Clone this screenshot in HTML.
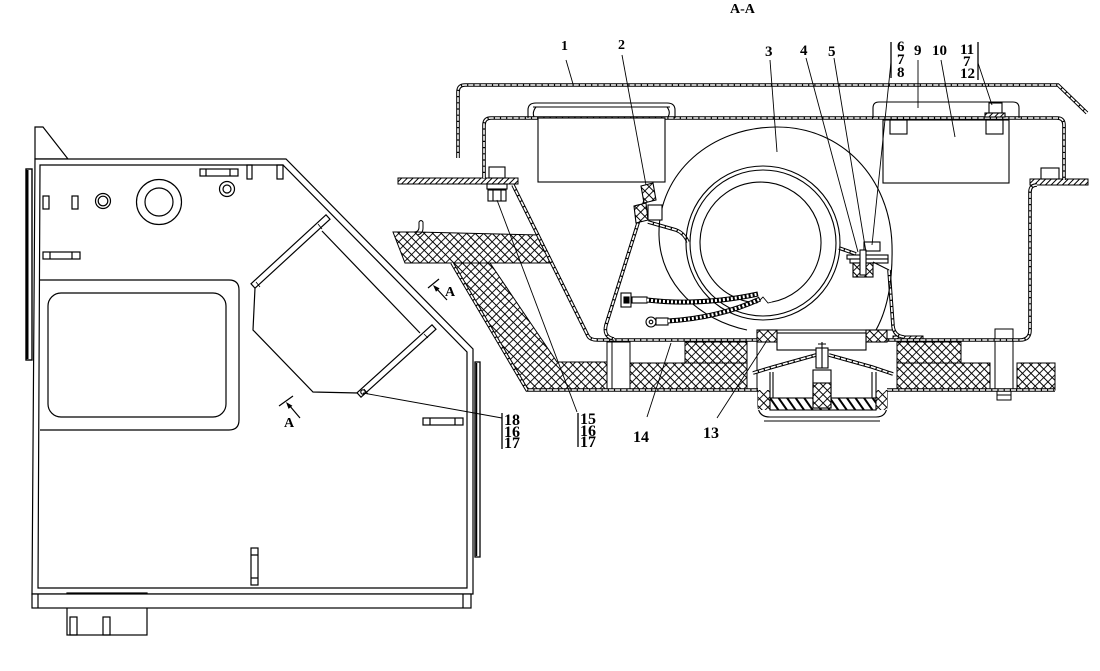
<!DOCTYPE html>
<html><head><meta charset="utf-8"><style>
html,body{margin:0;padding:0;background:#fff}
svg{display:block}
.t{font-family:"Liberation Serif",serif;font-weight:bold;fill:#000}
.o{stroke:#000;stroke-width:3.6;fill:none}
.i{stroke:#fff;stroke-width:1.6;fill:none;stroke-dasharray:5 1.2}
</style></head><body>
<svg width="1100" height="671" viewBox="0 0 1100 671" xmlns="http://www.w3.org/2000/svg">
<defs>
<pattern id="mesh" width="6" height="6" patternUnits="userSpaceOnUse" patternTransform="rotate(45)"><rect width="6" height="6" fill="#fff"/><path d="M0,3 H6 M3,0 V6" stroke="#000" stroke-width="0.9"/></pattern>
<pattern id="hatch" width="4" height="4" patternUnits="userSpaceOnUse" patternTransform="rotate(45)"><rect width="4" height="4" fill="#fff"/><path d="M2,0 V4" stroke="#000" stroke-width="1"/></pattern>
<pattern id="hatch2" width="7" height="7" patternUnits="userSpaceOnUse" patternTransform="rotate(-35)"><rect width="7" height="7" fill="#fff"/><path d="M3.5,0 V7" stroke="#000" stroke-width="2"/></pattern>
<path id="cover" d="M458,158 V92 Q458,85 465,85 H1058 L1087,113"/>
<path id="house" d="M484,178 V125 Q484,118 491,118 H1057 Q1064,118 1064,125 V180"/>
<path id="diag" d="M513,185 L588,336 Q590,340 598,340 H1020 Q1030,340 1030,330 V192 Q1030,185 1037,185"/>
<path id="lwall" d="M649,188 L606,325 Q603,337 614,339"/>
<path id="rwall" d="M889,270 L893,326 Q894,336 904,337"/>
<path id="band" d="M452,263 L527,390 H758 M887,390 H1055"/>
<path id="strapL" d="M648,222 L676,230 Q684,233 688,242"/>
<path id="strapR" d="M839,248 L856,254"/>
<path id="umbL" d="M753,373 L773,367 L816,355"/>
<path id="umbR" d="M829,355 L872,367 L893,374"/>
</defs>
<rect width="1100" height="671" fill="#fff"/>

<!-- ===== LEFT VIEW ===== -->
<g stroke="#000" fill="none" stroke-width="1.2">
 <polygon points="35,159 35,127 43,127 68,159" fill="#fff"/>
 <path d="M35,159 H286 L473,349 V594 H32 Z" fill="#fff"/>
 <path d="M40,165 H283 L467,352 V588 H38 Z"/>
 <rect x="67" y="593" width="80" height="42" fill="#fff"/>
 <rect x="32" y="594" width="439" height="14" fill="#fff"/>
 <path d="M38,594 V608 M463,594 V608"/>
 <rect x="70" y="617" width="7" height="18"/>
 <rect x="103" y="617" width="7" height="18"/>
 <rect x="26" y="169" width="6" height="191" fill="#fff" stroke-width="1.4"/>
 <path d="M27.5,170 V359" stroke-width="2"/>
 <rect x="475" y="362" width="5" height="195" stroke-width="1.3"/>
 <path d="M476.5,363 V556" stroke-width="1.5"/>
 <!-- top features -->
 <rect x="200" y="169" width="38" height="7"/>
 <path d="M206,169 V176 M230,169 V176"/>
 <rect x="247" y="165" width="5" height="14"/>
 <rect x="277" y="165" width="6" height="14"/>
 <circle cx="227" cy="189" r="7.5"/><circle cx="227" cy="189" r="4"/>
 <circle cx="159" cy="202" r="22.5"/><circle cx="159" cy="202" r="14"/>
 <circle cx="103" cy="201" r="7.5"/><circle cx="103" cy="201" r="4.8"/>
 <rect x="43" y="196" width="6" height="13"/>
 <rect x="72" y="196" width="6" height="13"/>
 <rect x="43" y="252" width="37" height="7"/>
 <path d="M50,252 V259 M72,252 V259"/>
 <!-- window -->
 <path d="M40,280 H229 Q239,280 239,290 V420 Q239,430 229,430 H40"/>
 <rect x="48" y="293" width="178" height="124" rx="13"/>
 <rect x="423" y="418" width="40" height="7"/>
 <path d="M430,418 V425 M455,418 V425"/>
 <rect x="251" y="548" width="7" height="37"/>
 <path d="M251,555 H258 M251,578 H258"/>
 <!-- hexagon opening -->
 <path d="M255,288 L253,330 L313,392 L358,393"/>
 <path d="M420,333 L322,231"/>
 <polygon points="251,283.8 326,214.8 330,219.2 255,288.2" fill="#fff"/>
 <polygon points="357,392.8 432,324.8 436,329.2 361,397.2" fill="#fff"/>
 <path d="M256,282 L260,287 M318,224 L322,229 M424,334 L428,338 M364,389 L368,394" stroke-width="0.8"/>
 <circle cx="363" cy="392" r="2.2"/>
 <path d="M363,393 L502,418" stroke-width="0.9"/>
 <!-- section arrows -->
 <path d="M279,406 L293,396 M300,418 L289,405" stroke-width="1.2"/>
 <path d="M428,288 L439,279 M447,300 L436,288" stroke-width="1.2"/>
</g>
<polygon points="286,402 292.4,405.7 288.6,408.9" fill="#000"/>
<polygon points="433,285 439.6,288.4 436,291.8" fill="#000"/>
<text class="t" x="284" y="427" font-size="14">A</text>
<text class="t" x="445" y="296" font-size="14">A</text>

<!-- ===== SECTION A-A ===== -->
<text class="t" x="730" y="13" font-size="14">A-A</text>

<!-- foam / mesh areas -->
<g stroke="#000" stroke-width="1">
 <polygon points="393,232 417,232 539,235 550,263 405,263" fill="url(#mesh)"/>
 <polygon points="452,263 490,263 557,362 607,362 607,390 527,390" fill="url(#mesh)"/>
 <rect x="607" y="342" width="23" height="48" fill="#fff"/>
 <path d="M612,342 V390" fill="none"/>
 <rect x="630" y="363" width="117" height="27" fill="url(#mesh)"/>
 <rect x="685" y="342" width="62" height="21" fill="url(#mesh)"/>
 <path d="M747,342 V390 M757,342 V390" fill="none"/>
 <rect x="897" y="342" width="64" height="21" fill="url(#mesh)"/>
 <rect x="897" y="363" width="93" height="27" fill="url(#mesh)"/>
 <rect x="995" y="329" width="18" height="61" fill="#fff"/>
 <rect x="997" y="390" width="14" height="10" fill="#fff"/>
 <path d="M997,395 H1011" fill="none"/>
 <rect x="1017" y="363" width="38" height="27" fill="url(#mesh)"/>
 <!-- flanges -->
 <rect x="398" y="178" width="120" height="6" fill="url(#hatch)"/>
 <rect x="1030" y="179" width="58" height="6" fill="url(#hatch)"/>
 <rect x="893" y="336" width="30" height="5" fill="url(#hatch)"/>
</g>
<path d="M414,232 Q419,232 419,227 V222 Q421,219 423,222 V228 Q423,234 417,235" stroke="#000" fill="none" stroke-width="1"/>

<!-- sheet metal double lines -->
<use href="#cover" class="o"/><use href="#cover" class="i"/>
<use href="#house" class="o"/><use href="#house" class="i"/>
<use href="#diag" class="o"/><use href="#diag" class="i"/>
<use href="#lwall" class="o"/><use href="#lwall" class="i"/>
<use href="#rwall" class="o"/><use href="#rwall" class="i"/>
<use href="#band" class="o"/><use href="#band" class="i"/>
<use href="#strapL" class="o"/><use href="#strapL" class="i"/>
<use href="#strapR" class="o"/><use href="#strapR" class="i"/>
<use href="#umbL" class="o"/><use href="#umbL" class="i"/>
<use href="#umbR" class="o"/><use href="#umbR" class="i"/>

<g stroke="#000" fill="none" stroke-width="1.1">
 <!-- bolts on flanges -->
 <rect x="489" y="167" width="16" height="11" fill="#fff"/>
 <rect x="487" y="184" width="20" height="5" fill="#fff"/>
 <rect x="488" y="190" width="18" height="11" fill="#fff"/>
 <path d="M493,190 V201 M501,190 V201"/>
 <rect x="1041" y="168" width="18" height="11" fill="#fff"/>
 <!-- left box & lip -->
 <path d="M528,118 V110 Q528,103 536,103 H667 Q675,103 675,110 V118"/>
 <path d="M533,107 H670 M536,107 Q532,112 534,117 M667,107 Q671,112 668,117"/>
 <rect x="538" y="118" width="127" height="64" fill="#fff"/>
 <!-- right box & lip -->
 <path d="M873,118 V108 Q873,102 879,102 H1013 Q1019,102 1019,108 V118"/>
 <rect x="883" y="120" width="126" height="63" fill="#fff"/>
 <rect x="890" y="120" width="17" height="14"/>
 <rect x="986" y="120" width="17" height="14"/>
 <rect x="989" y="103" width="13" height="10" fill="#fff"/>
 <rect x="985" y="113" width="20" height="4" fill="url(#hatch)"/>
 <!-- fan scroll -->
 <path d="M747,330 C700,320 660,285 659,235 C658,172 712,127 777,127 C842,127 890,178 892,245 C893,285 886,312 876,330"/>
 <circle cx="763" cy="243" r="77"/>
 <circle cx="763" cy="243" r="73"/>
 <path d="M757,303 A60.5,60.5 0 1 1 772,302"/>
 <path d="M757,303 L763,297 L768,303 L772,302" stroke-width="0.9"/>
 <!-- left bracket (2) -->
 <polygon points="641,186 653,183 656,200 644,203" fill="url(#mesh)"/>
 <polygon points="634,206 646,203 648,220 636,223" fill="url(#mesh)"/>
 <rect x="648" y="205" width="14" height="15" fill="#fff"/>
 <!-- right bracket -->
 <rect x="864" y="242" width="16" height="9" fill="#fff"/>
 <rect x="847" y="255" width="41" height="4" fill="#fff"/>
 <rect x="850" y="259" width="38" height="4" fill="#fff"/>
 <rect x="853" y="263" width="20" height="14" fill="url(#mesh)"/>
 <rect x="860" y="250" width="6" height="25" fill="#fff"/>
 <path d="M873,262 L889,270"/>
 <!-- wires -->
 <rect x="621" y="293" width="10" height="14" fill="#fff"/>
 <rect x="624" y="297" width="5" height="6" fill="#000"/>
 <rect x="632" y="297" width="15" height="6" fill="#fff"/>
 <path d="M647,300 C690,305 730,300 758,294" stroke-width="5"/>
 <path d="M647,300 C690,305 730,300 758,294" stroke="#fff" stroke-width="3" stroke-dasharray="2 2"/>
 <circle cx="651" cy="322" r="5" fill="#fff"/>
 <circle cx="651" cy="322" r="1.8"/>
 <rect x="656" y="318" width="12" height="7" fill="#fff"/>
 <path d="M668,321 C700,319 732,312 760,299" stroke-width="5"/>
 <path d="M668,321 C700,319 732,312 760,299" stroke="#fff" stroke-width="3" stroke-dasharray="2 2"/>
 <!-- outlet & pads -->
 <path d="M757,330 H893"/>
 <rect x="757" y="330" width="20" height="12" fill="url(#mesh)"/>
 <rect x="866" y="330" width="21" height="12" fill="url(#mesh)"/>
 <rect x="777" y="333" width="89" height="17" fill="#fff"/>
 <!-- drain valve -->
 <path d="M758,390 V405 Q758,417 770,417 H876 Q887,417 887,405 V390"/>
 <path d="M764,421 H880"/>
 <rect x="758" y="390" width="12" height="20" fill="url(#mesh)" stroke="none"/>
 <rect x="876" y="390" width="11" height="20" fill="url(#mesh)" stroke="none"/>
 <rect x="770" y="398" width="106" height="12" fill="url(#hatch2)"/>
 <path d="M770,372 V398 M773,372 V398 M872,372 V398 M876,372 V398"/>
 <rect x="813" y="370" width="18" height="38" fill="#fff"/>
 <rect x="813" y="383" width="18" height="25" fill="url(#mesh)"/>
 <rect x="816" y="348" width="12" height="20" fill="#fff"/>
 <path d="M822,342 V368 M818,344 H826"/>
</g>

<!-- leader lines -->
<g stroke="#000" stroke-width="0.9" fill="none">
 <path d="M566,60 L573,84"/>
 <path d="M622,55 L646,185"/>
 <path d="M770,60 L777,152"/>
 <path d="M806,58 L858,252"/>
 <path d="M834,58 L866,252"/>
 <path d="M891,62 L872,245"/>
 <path d="M918,60 L918,108"/>
 <path d="M941,60 L955,137"/>
 <path d="M978,63 L992,105"/>
 <path d="M577,412 L497,200"/>
 <path d="M647,417 L671,343"/>
 <path d="M717,418 L766,342"/>
</g>
<g stroke="#000" stroke-width="1.3">
 <path d="M891,42 V78"/>
 <path d="M978,42 V80"/>
 <path d="M502,413 V449"/>
 <path d="M578,413 V447"/>
</g>

<!-- labels -->
<g class="t" font-size="14">
 <text x="561" y="50">1</text>
 <text x="618" y="49">2</text>
</g>
<g class="t" font-size="15">
 <text x="765" y="56">3</text>
 <text x="800" y="55">4</text>
 <text x="828" y="56">5</text>
 <text x="897" y="51">6</text>
 <text x="897" y="64">7</text>
 <text x="897" y="77">8</text>
 <text x="914" y="55">9</text>
 <text x="932" y="55">10</text>
 <text x="960" y="54">11</text>
 <text x="963" y="66">7</text>
 <text x="960" y="78">12</text>
</g>
<g class="t" font-size="16">
 <text x="504" y="425">18</text>
 <text x="504" y="437">16</text>
 <text x="504" y="448">17</text>
 <text x="580" y="424">15</text>
 <text x="580" y="436">16</text>
 <text x="580" y="447">17</text>
 <text x="633" y="442">14</text>
 <text x="703" y="438">13</text>
</g>
</svg>
</body></html>
